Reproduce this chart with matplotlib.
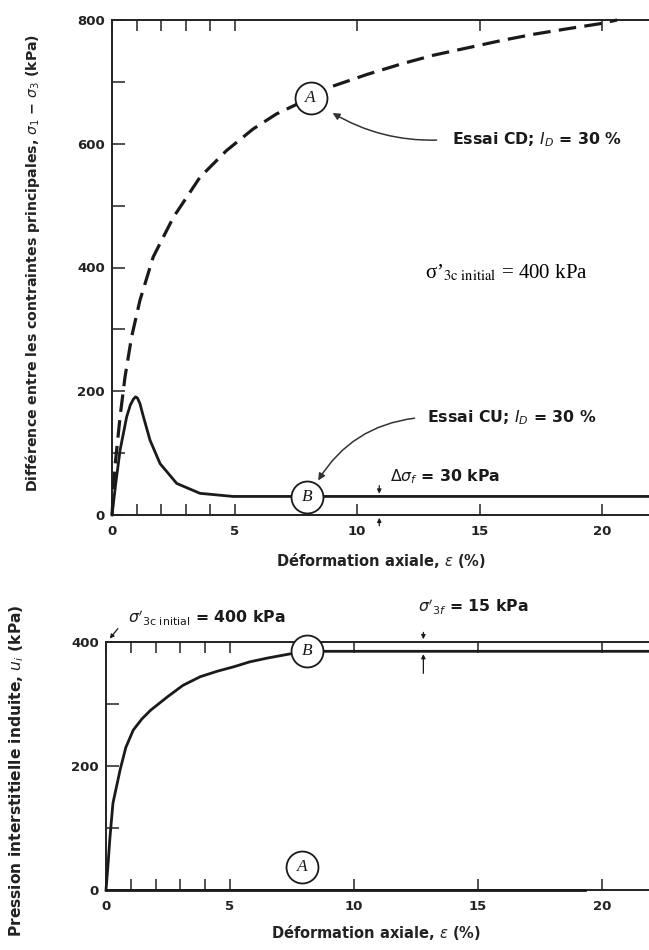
import matplotlib
matplotlib.use("Agg")
import matplotlib.pyplot as plt
from matplotlib.ticker import FixedLocator, NullFormatter

# ---------------- data ----------------
cd_strain = [0, 0.12, 0.33, 0.53, 0.8, 1.14, 1.68, 2.5, 3.59, 4.67, 5.76, 6.7, 7.55, 9.0, 10.4, 11.8, 13.1, 14.5, 15.9, 17.2, 18.6, 19.9, 20.6]
cd_dev    = [0, 78, 159, 223, 288, 347, 417, 481, 546, 589, 624, 648, 664, 693, 712, 729, 743, 755, 767, 777, 786, 794, 800]

cu_strain = [0, 0.15, 0.33, 0.6, 0.75, 0.87, 0.96, 1.04, 1.14, 1.28, 1.55, 1.96, 2.64, 3.59, 4.94, 6.0, 22.0]
cu_dev    = [0, 50, 105, 159, 178, 187, 191, 189, 180, 159, 121, 83, 51, 35, 30, 30, 30]

ub_strain = [0, 0.08, 0.16, 0.28, 0.57, 0.8, 1.1, 1.45, 1.8, 2.46, 3.1, 3.8, 4.5, 5.15, 5.8, 6.5, 7.45, 8.5, 22.0]
ub_pore   = [0, 40, 85, 140, 194, 230, 258, 276, 290, 311, 330, 344, 353, 360, 368, 374, 381, 385, 385]

ua_strain = [0, 19.3]
ua_pore   = [0, 0]

top_circles_x = [8.1, 7.95]
top_circles_y = [674, 29]
top_circles_lbl = ["A", "B"]
bot_circles_x = [8.1, 7.9]
bot_circles_y = [385, 37]
bot_circles_lbl = ["B", "A"]

x_major = [0, 5, 10, 15, 20]
x_minor = [1, 2, 3, 4]
y_top_major = [0, 200, 400, 600, 800]
y_top_minor = [100, 300, 500, 700]
y_bot_major = [0, 200, 400]
y_bot_minor = [100, 300]

# ---------------- figure ----------------
plt.rcParams['font.family'] = ['DejaVu Sans']
W, H = 649, 950
fig = plt.figure(figsize=(W / 100, H / 100), dpi=100)

def px_axes(l, r, t, b):
    return fig.add_axes([l / W, 1 - b / H, (r - l) / W, (b - t) / H])

ax1 = px_axes(112, 649, 20, 515)
ax2 = px_axes(106, 649, 642, 890)

ink = '#1a1a1a'
ann_size = 11.3

def style(ax, ymaj, ymin_, ylim):
    ax.set_xlim(0, 21.9)
    ax.set_ylim(*ylim)
    ax.xaxis.set_major_locator(FixedLocator(x_major))
    ax.xaxis.set_minor_locator(FixedLocator(x_minor))
    ax.yaxis.set_major_locator(FixedLocator(ymaj))
    ax.yaxis.set_minor_locator(FixedLocator(ymin_))
    ax.xaxis.set_minor_formatter(NullFormatter())
    ax.yaxis.set_minor_formatter(NullFormatter())
    ax.tick_params(axis='x', which='both', direction='in', top=True, bottom=True,
                   length=8, width=1.1, pad=7, labelsize=9.5, colors='#222222')
    ax.tick_params(axis='y', which='both', direction='in', left=True, right=False,
                   length=9, width=1.1, pad=5, labelsize=9.5, colors='#222222')
    for lbl in ax.get_xticklabels() + ax.get_yticklabels():
        lbl.set_fontweight('bold')
    ax.spines['right'].set_visible(False)
    for s in ('left', 'bottom', 'top'):
        ax.spines[s].set_linewidth(1.4)
        ax.spines[s].set_color('#222222')
    ax.set_facecolor('none')

style(ax1, y_top_major, y_top_minor, (0, 800))
style(ax2, y_bot_major, y_bot_minor, (0, 400))

# ----- top chart -----
ax1.plot(cd_strain, cd_dev, color=ink, lw=2.3, ls=(0, (5.5, 2.6)), clip_on=False, zorder=3)
ax1.plot(cu_strain, cu_dev, color=ink, lw=2.0, clip_on=False, zorder=3)

def circles(ax, xs, ys, lbls):
    for x, y, t in zip(xs, ys, lbls):
        ax.plot([x], [y], 'o', ms=23, mfc='white', mec=ink, mew=1.3, zorder=6, clip_on=False)
        ax.text(x, y, t, ha='center', va='center', fontsize=12.5, style='italic',
                family='Liberation Serif', zorder=7, color=ink)

circles(ax1, top_circles_x, top_circles_y, top_circles_lbl)

ax1.annotate('', xy=(8.9, 652), xytext=(13.35, 606),
             arrowprops=dict(arrowstyle='-|>', color='#333333', lw=1.1,
                             connectionstyle='arc3,rad=-0.15', mutation_scale=10))
ax1.text(13.85, 606, r'Essai CD; $I_D$ = 30 %', fontsize=ann_size, fontweight='semibold',
         va='center', ha='left', color=ink)

ax1.annotate('', xy=(8.35, 52), xytext=(12.45, 157),
             arrowprops=dict(arrowstyle='-|>', color='#333333', lw=1.1,
                             connectionstyle='arc3,rad=0.25', mutation_scale=10))
ax1.text(12.85, 157, r'Essai CU; $I_D$ = 30 %', fontsize=ann_size, fontweight='semibold',
         va='center', ha='left', color=ink)

ax1.annotate('', xy=(10.9, 30), xytext=(10.9, 52),
             arrowprops=dict(arrowstyle='-|>', color=ink, lw=0.9, mutation_scale=6))
ax1.annotate('', xy=(10.9, 0), xytext=(10.9, -22), annotation_clip=False,
             arrowprops=dict(arrowstyle='-|>', color=ink, lw=0.9, mutation_scale=6))
ax1.text(11.35, 62, r'$\Delta\sigma_f$ = 30 kPa', fontsize=ann_size, fontweight='semibold',
         va='center', ha='left', color=ink)

ax1.text(12.75, 391, "σ’$_{\\mathrm{3c\\ initial}}$ = 400 kPa", fontsize=15,
         family='Liberation Serif', math_fontfamily='stix', va='center', ha='left', color='black')

ax1.set_ylabel(r'Différence entre les contraintes principales, $\sigma_1$ − $\sigma_3$ (kPa)',
               fontsize=10.2, fontweight='semibold', color='#222222')
ax1.yaxis.set_label_coords(-0.13, 0.51)
ax1.set_xlabel(r'Déformation axiale, $\epsilon$ (%)', fontsize=10.5, fontweight='semibold', color='#222222')
ax1.xaxis.set_label_coords(0.5, -0.072)

# ----- bottom chart -----
ax2.plot(ub_strain, ub_pore, color=ink, lw=2.0, clip_on=False, zorder=3)
ax2.plot(ua_strain, ua_pore, color=ink, lw=2.0, clip_on=False, zorder=3)
circles(ax2, bot_circles_x, bot_circles_y, bot_circles_lbl)

ax2.annotate('', xy=(12.8, 400), xytext=(12.8, 420), annotation_clip=False,
             arrowprops=dict(arrowstyle='-|>', color=ink, lw=0.9, mutation_scale=6))
ax2.annotate('', xy=(12.8, 385), xytext=(12.8, 345),
             arrowprops=dict(arrowstyle='-|>', color=ink, lw=0.9, mutation_scale=6))
ax2.text(12.6, 458, r"$\sigma'_{3f}$ = 15 kPa", fontsize=ann_size, fontweight='semibold',
         va='center', ha='left', color=ink)

ax2.annotate('', xy=(0.08, 402), xytext=(0.55, 425), annotation_clip=False,
             arrowprops=dict(arrowstyle='-|>', color=ink, lw=0.9, mutation_scale=6))
ax2.text(0.9, 440, r"$\sigma'_{\mathrm{3c\ initial}}$ = 400 kPa", fontsize=ann_size, fontweight='semibold',
         va='center', ha='left', color=ink)

ax2.set_ylabel(r'Pression interstitielle induite, $u_i$ (kPa)', fontsize=11.2,
               fontweight='semibold', color='#222222')
ax2.yaxis.set_label_coords(-0.148, 0.48)
ax2.set_xlabel(r'Déformation axiale, $\epsilon$ (%)', fontsize=10.5, fontweight='semibold', color='#222222')
ax2.xaxis.set_label_coords(0.497, -0.135)

fig.savefig('out.png', dpi=100, facecolor='white')
